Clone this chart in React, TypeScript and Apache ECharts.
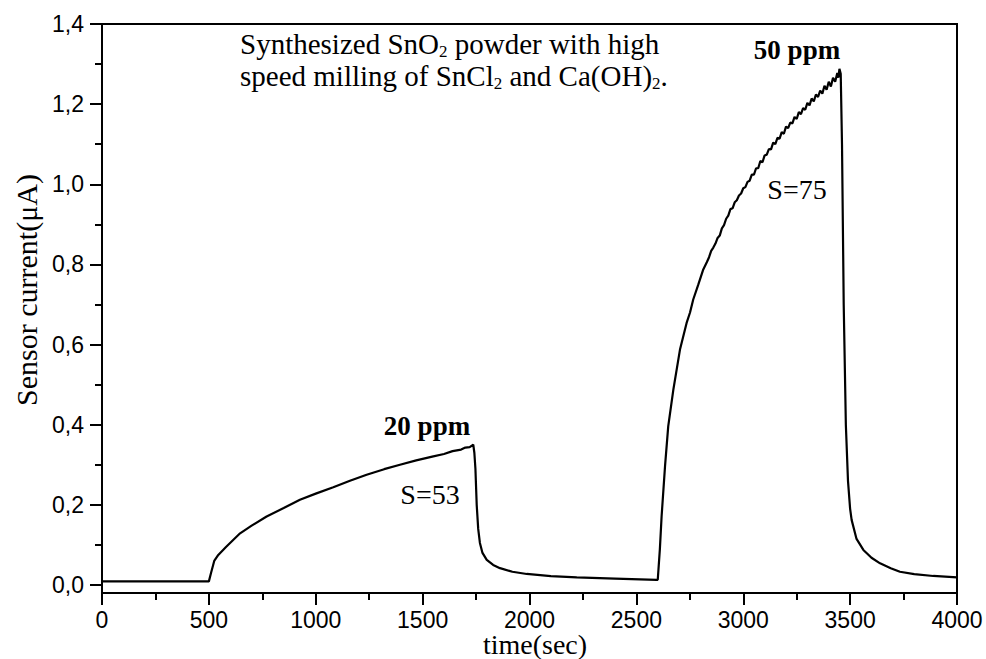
import React, { useEffect, useRef } from "react";
import * as echarts from "echarts";

const timeSec = [
  0, 250, 480, 500, 510, 525, 544, 580, 646, 700, 770, 850, 926, 1000, 1082, 1160, 1238, 1320, 1394, 1470, 1550,
  1600, 1640, 1680, 1700, 1720, 1737, 1742, 1747, 1753, 1760, 1768, 1780, 1800, 1830, 1862, 1920, 1987, 2100,
  2221, 2400, 2595, 2600, 2610, 2618, 2634, 2649, 2673, 2704, 2735, 2751, 2766, 2790, 2813, 2830, 2840, 2850,
  2860, 2870, 2880, 2890, 2900, 2910, 2920, 2930, 2940, 2950, 2960, 2970, 2980, 2990, 3000, 3010, 3020, 3030,
  3040, 3050, 3060, 3070, 3080, 3090, 3100, 3110, 3120, 3130, 3140, 3150, 3160, 3170, 3180, 3190, 3200, 3210,
  3220, 3230, 3240, 3250, 3260, 3270, 3280, 3290, 3300, 3310, 3320, 3330, 3340, 3350, 3360, 3370, 3380, 3390,
  3400, 3410, 3420, 3430, 3440, 3445, 3450, 3456, 3462, 3470, 3480, 3490, 3500, 3507, 3530, 3562, 3600, 3640,
  3690, 3733, 3800, 3889, 4000,
];

const currentUA = [
  0.009, 0.009, 0.009, 0.009, 0.03, 0.06, 0.075, 0.095, 0.129, 0.148, 0.171, 0.192, 0.2125, 0.228, 0.244, 0.26,
  0.275, 0.289, 0.3, 0.311, 0.321, 0.327, 0.334, 0.338, 0.343, 0.344, 0.35, 0.33, 0.29, 0.2, 0.14, 0.105, 0.08,
  0.0625, 0.05, 0.042, 0.033, 0.0275, 0.022, 0.019, 0.016, 0.013, 0.013, 0.09, 0.171, 0.296, 0.396, 0.4875,
  0.5875, 0.654, 0.68, 0.7125, 0.75, 0.7875, 0.806, 0.818, 0.834, 0.842, 0.852, 0.866, 0.872, 0.89, 0.898,
  0.914, 0.922, 0.938, 0.94, 0.955, 0.96, 0.972, 0.977, 0.99, 0.993, 1.006, 1.009, 1.024, 1.024, 1.04, 1.04,
  1.058, 1.055, 1.072, 1.074, 1.088, 1.087, 1.104, 1.1, 1.116, 1.114, 1.13, 1.126, 1.144, 1.14, 1.154, 1.152,
  1.168, 1.163, 1.18, 1.175, 1.19, 1.186, 1.203, 1.197, 1.214, 1.207, 1.224, 1.218, 1.234, 1.226, 1.246, 1.236,
  1.256, 1.244, 1.266, 1.256, 1.278, 1.266, 1.288, 1.276, 1.1, 0.7, 0.4, 0.26, 0.19, 0.1625, 0.115, 0.0875,
  0.068, 0.054, 0.042, 0.033, 0.027, 0.0225, 0.019,
];

const yMajorTicks = [0, 0.2, 0.4, 0.6, 0.8, 1.0, 1.2, 1.4];
const yMinorTicks = [0.1, 0.3, 0.5, 0.7, 0.9, 1.1, 1.3];

const SERIF = '"Liberation Serif", "Times New Roman", serif';
const SANS = '"Liberation Sans", Arial, sans-serif';

export default function App() {
  const ref = useRef<HTMLDivElement>(null);
  useEffect(() => {
    const chart = echarts.init(ref.current!, null, { renderer: "svg" });
    const data = timeSec.map((t, i) => [t, currentUA[i]]);
    const axisLineStyle = { color: "#000", width: 2 };
    chart.setOption({
      animation: false,
      backgroundColor: "#fff",
      grid: {
        left: 102,
        right: 29,
        top: 24,
        bottom: 66,
        show: true,
        borderColor: "#000",
        borderWidth: 2,
        backgroundColor: "transparent",
        outerBoundsMode: "none",
      },
      xAxis: {
        type: "value",
        min: 0,
        max: 4000,
        interval: 500,
        axisLine: { show: true, onZero: false, lineStyle: axisLineStyle },
        axisTick: { show: true, inside: false, length: 12, lineStyle: axisLineStyle },
        minorTick: { show: true, splitNumber: 2, length: 7, lineStyle: axisLineStyle },
        splitLine: { show: false },
        minorSplitLine: { show: false },
        axisLabel: {
          color: "#000",
          fontFamily: SANS,
          fontSize: 23,
          margin: 16,
          lineHeight: 22,
          formatter: (v: number) => String(v),
        },
      },
      yAxis: [
        {
          type: "value",
          position: "left",
          min: -0.02,
          max: 1.4,
          axisLine: { show: true, onZero: false, lineStyle: axisLineStyle },
          axisTick: { show: true, inside: false, length: 12, lineStyle: axisLineStyle, customValues: yMajorTicks },
          splitLine: { show: false },
          axisLabel: {
            color: "#000",
            fontFamily: SANS,
            fontSize: 23,
            margin: 18,
            customValues: yMajorTicks,
            formatter: (v: number) => v.toFixed(1).replace(".", ","),
          },
        },
        {
          type: "value",
          position: "left",
          offset: 0,
          min: -0.02,
          max: 1.4,
          axisLine: { show: false, onZero: false },
          axisTick: { show: true, inside: false, length: 7, lineStyle: axisLineStyle, customValues: yMinorTicks },
          splitLine: { show: false },
          axisLabel: { show: false },
        },
      ],
      series: [
        {
          type: "line",
          data,
          yAxisIndex: 0,
          symbol: "none",
          showSymbol: false,
          lineStyle: { color: "#000", width: 2.2 },
          clip: true,
        },
      ],
      graphic: [
        {
          type: "text",
          x: 26,
          y: 290,
          rotation: Math.PI / 2,
          style: {
            text: "Sensor current(μA)",
            fill: "#000",
            fontFamily: SERIF,
            fontSize: 30,
            align: "center",
            verticalAlign: "middle",
          },
        },
        {
          type: "text",
          x: 535,
          y: 644,
          style: {
            text: "time(sec)",
            fill: "#000",
            fontFamily: SERIF,
            fontSize: 28,
            lineHeight: 24,
            align: "center",
            verticalAlign: "middle",
          },
        },
        {
          type: "text",
          x: 240,
          y: 28,
          style: {
            text: "Synthesized SnO{sub|2} powder with high\nspeed milling of SnCl{sub|2} and Ca(OH){sub|2}.",
            fill: "#000",
            fontFamily: SERIF,
            fontSize: 29,
            lineHeight: 32,
            align: "left",
            verticalAlign: "top",
            rich: {
              sub: { fontFamily: SERIF, fontSize: 17, lineHeight: 14, verticalAlign: "bottom", fill: "#000" },
            },
          },
        },
        {
          type: "text",
          x: 427,
          y: 426,
          style: { text: "20 ppm", fill: "#000", fontFamily: SERIF, fontSize: 27, fontWeight: "bold", align: "center", verticalAlign: "middle" },
        },
        {
          type: "text",
          x: 430,
          y: 494,
          style: { text: "S=53", fill: "#000", fontFamily: SERIF, fontSize: 28, align: "center", verticalAlign: "middle" },
        },
        {
          type: "text",
          x: 797,
          y: 50,
          style: { text: "50 ppm", fill: "#000", fontFamily: SERIF, fontSize: 27, fontWeight: "bold", align: "center", verticalAlign: "middle" },
        },
        {
          type: "text",
          x: 797,
          y: 189,
          style: { text: "S=75", fill: "#000", fontFamily: SERIF, fontSize: 28, align: "center", verticalAlign: "middle" },
        },
      ],
    });
    return () => chart.dispose();
  }, []);
  return (
    <div
      ref={ref}
      style={{ position: "fixed", left: 0, top: 0, width: 986, height: 659, background: "#fff" }}
    />
  );
}
